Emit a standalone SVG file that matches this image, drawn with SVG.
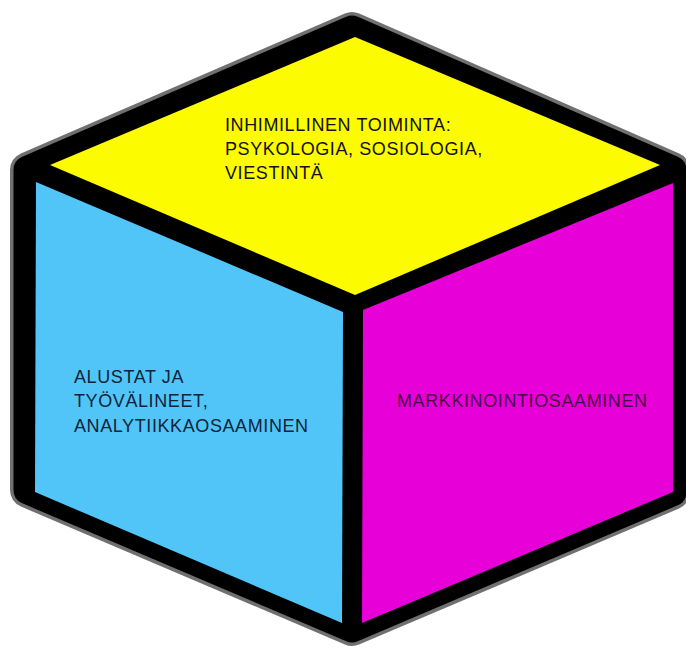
<svg xmlns="http://www.w3.org/2000/svg" width="686" height="648" viewBox="0 0 686 648">
<style>
.lbl{font-family:"Liberation Sans",Arial,sans-serif;font-size:18px;letter-spacing:0.6px}
</style>
<rect width="686" height="648" fill="#ffffff"/>
<g id="frame">
<polygon points="352,30 28,170 28,490 352,628 672,492 672,170" fill="#707070" stroke="#707070" stroke-width="36" stroke-linejoin="round"/>
<polygon points="352,30 28,170 28,490 352,628 672,492 672,170" fill="#000" stroke="#000" stroke-width="29" stroke-linejoin="round"/>
</g>
<g id="top-face">
<polygon points="355,37 50,165 355,295 660,165" fill="#fdfb00"/>
<text class="lbl" fill="#111" x="225" y="131">INHIMILLINEN TOIMINTA:</text>
<text class="lbl" fill="#111" x="225" y="155">PSYKOLOGIA, SOSIOLOGIA,</text>
<text class="lbl" fill="#111" x="225" y="179">VIESTINTÄ</text>
</g>
<g id="left-face">
<polygon points="36,182 343,312 342,623 35,492" fill="#52c5f8"/>
<text class="lbl" fill="#0f2438" x="74" y="383">ALUSTAT JA</text>
<text class="lbl" fill="#0f2438" x="74" y="407">TYÖVÄLINEET,</text>
<text class="lbl" fill="#0f2438" x="74" y="432">ANALYTIIKKAOSAAMINEN</text>
</g>
<g id="right-face">
<polygon points="363,310 673,183 673,492 362,623" fill="#e800d8"/>
<text class="lbl" fill="#4d0048" x="397" y="407">MARKKINOINTIOSAAMINEN</text>
</g>
<g id="connectors"></g>
</svg>
